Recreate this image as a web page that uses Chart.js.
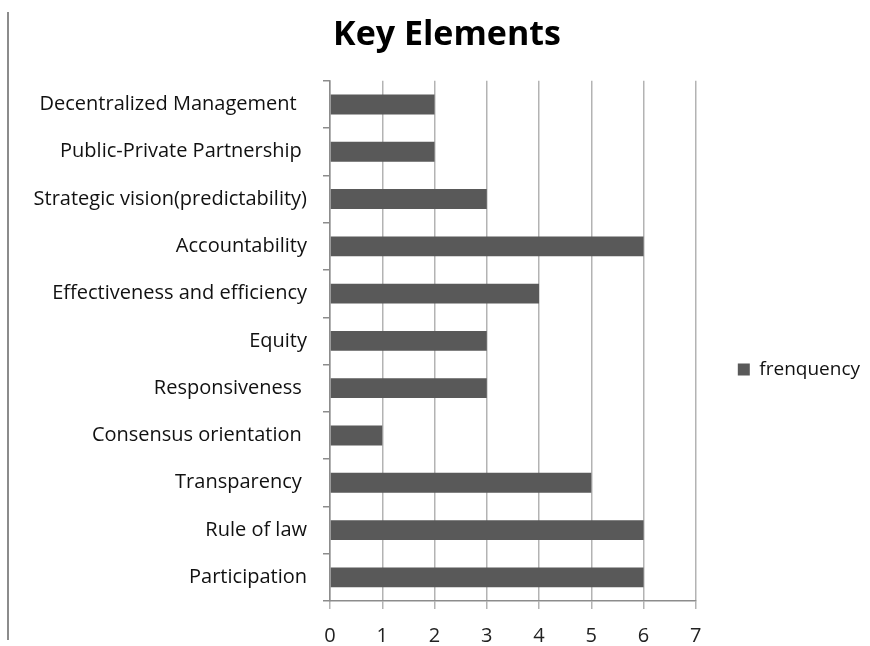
<!DOCTYPE html>
<html>
<head>
<meta charset="utf-8">
<title>Key Elements</title>
<script src="https://cdn.jsdelivr.net/npm/chart.js@4"></script>
<style>
  html, body { margin: 0; padding: 0; background: #fff; }
  #wrap { position: relative; width: 870px; height: 646px; }
  /* frame edge on the left of the original picture */
  #edge { position: absolute; left: 7px; top: 12px; width: 2px; height: 628px; background: #8c8c8c; }
</style>
</head>
<body>
<div id="wrap">
  <div id="edge"></div>
  <canvas id="keyChart" width="870" height="646"></canvas>
</div>
<script>
/* ── Data (top → bottom as shown) ───────────────────────── */
const categories = [
  'Decentralized Management  ',
  'Public-Private Partnership ',
  'Strategic vision(predictability)',
  'Accountability',
  'Effectiveness and efficiency',
  'Equity',
  'Responsiveness ',
  'Consensus orientation ',
  'Transparency ',
  'Rule of law',
  'Participation',
];
const frequency = [2, 2, 3, 6, 4, 3, 3, 1, 5, 6, 6];
const seriesName = 'frenquency';
const xTicks = [0, 1, 2, 3, 4, 5, 6, 7];

const FONT = "'Open Sans', 'Noto Sans', sans-serif";
const BAR  = '#595959';

new Chart(document.getElementById('keyChart'), {
  type: 'bar',
  data: {
    labels: categories,
    datasets: [{
      label: seriesName,
      data: frequency,
      backgroundColor: BAR,
      borderWidth: 0,
      categoryPercentage: 0.42,
      barPercentage: 1,
    }],
  },
  options: {
    indexAxis: 'y',
    responsive: false,
    animation: false,
    layout: { padding: { left: 24, right: 0, top: 15, bottom: 0 } },
    plugins: {
      title: {
        display: true,
        text: 'Key Elements',
        color: '#000',
        font: { family: FONT, size: 34, weight: 'bold' },
        padding: { top: 0, bottom: 25 },
      },
      legend: {
        position: 'right',
        maxWidth: 176,
        // empty title only pushes the single entry down to mid-height
        title: { display: true, text: ' ', font: { size: 10 }, padding: { top: 33, bottom: 33 } },
        labels: {
          color: '#111',
          font: { family: FONT, size: 19 },
          boxWidth: 12,
          boxHeight: 12,
          padding: 42,
        },
      },
      tooltip: { enabled: false },
    },
    scales: {
      x: {
        min: xTicks[0],
        max: xTicks[xTicks.length - 1],
        afterBuildTicks: s => { s.ticks = xTicks.map(v => ({ value: v })); },
        afterFit: s => { s.height = 45; },
        grid: { color: '#b3b3b3', lineWidth: 1.5, tickLength: 8 },
        border: { color: '#8c8c8c', width: 1.5 },
        ticks: { color: '#222', font: { family: FONT, size: 20 }, padding: 15 },
      },
      y: {
        afterFit: s => { s.width = 306; },
        grid: { drawOnChartArea: false, color: '#8c8c8c', lineWidth: 1.5, tickLength: 7 },
        border: { color: '#8c8c8c', width: 1.5 },
        ticks: { color: '#111', font: { family: FONT, size: 20 }, padding: 16, autoSkip: false },
      },
    },
  },
});
</script>
</body>
</html>
